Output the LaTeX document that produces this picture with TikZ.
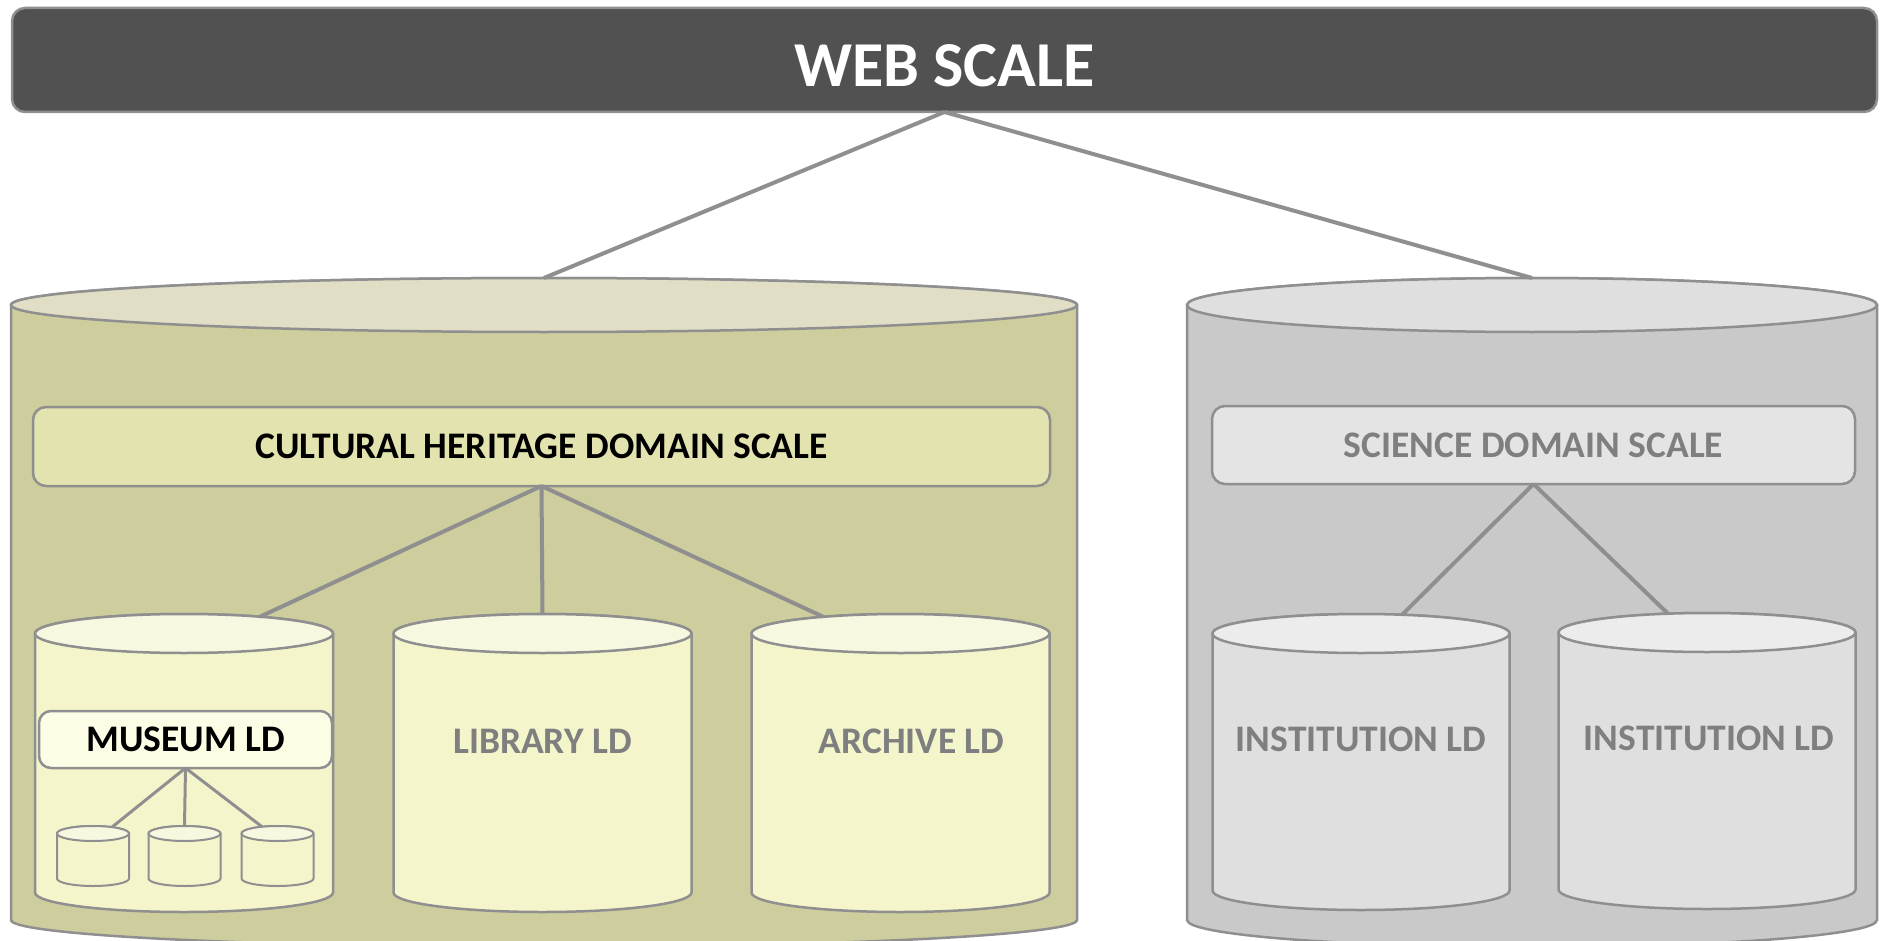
\documentclass[tikz,border=0pt]{standalone}
\usepackage{fontspec}
\setmainfont{Carlito}
\usetikzlibrary{positioning, calc}

\definecolor{webgray}{HTML}{515151}
\definecolor{linegray}{HTML}{8F8F8F}
\definecolor{txtgray}{HTML}{7F7F7F}
\definecolor{olivebody}{HTML}{CDCD9E}
\definecolor{olivetop}{HTML}{E0DFC5}
\definecolor{chfill}{HTML}{E3E3AF}
\definecolor{ldbody}{HTML}{F5F5CB}
\definecolor{ldtop}{HTML}{F8F8E1}
\definecolor{museumfill}{HTML}{FDFDE5}
\definecolor{greybody}{HTML}{C9C9C9}
\definecolor{greytop}{HTML}{DFDFDF}
\definecolor{scifill}{HTML}{E4E4E4}
\definecolor{instbody}{HTML}{DFDFDF}
\definecolor{insttop}{HTML}{ECECEC}

% #1 extra style, #2 name, #3 centre x, #4 top y, #5 x radius, #6 height, #7 y radius, #8 body, #9 lid
\newcommand{\drawcan}[9][]{%
  \path[canline, #1, fill=#8] ({#3-#5},{#4+#7}) -- ({#3-#5},{#4+#6-#7})
    arc[start angle=180, end angle=360, x radius=#5pt, y radius=#7pt]
    -- ({#3+#5},{#4+#7})
    arc[start angle=0, end angle=180, x radius=#5pt, y radius=#7pt] -- cycle;
  \path[canline, #1, fill=#9] (#3,{#4+#7}) ellipse[x radius=#5pt, y radius=#7pt];
  \node (#2) [minimum width=2*#5pt, minimum height=#6pt] at (#3,{#4+#6/2}) {};
}

\begin{document}
\begin{tikzpicture}[
    x=1pt, y=-1pt,
    every node/.style={inner sep=0pt, outer sep=0pt, font=\bfseries\fontsize{37.5}{40}\selectfont},
    scalebox/.style={draw=linegray, line width=2.5pt, rectangle, rounded corners=13pt},
    canline/.style={draw=linegray, line width=2.5pt},
    greytext/.style={text=txtgray},
    link/.style={draw=linegray, line width=4pt}
  ]
    \useasboundingbox (0,0) rectangle (1889,941);

    % web level
    \node (web) [scalebox, fill=webgray, minimum width=1865pt, minimum height=104pt] at (944.5,60) {};
    \node (webtxt) [text=white, font=\bfseries\fontsize{64}{70}\selectfont] at ([yshift=-5.5pt]web.center) {WEB SCALE};

    % domain cylinders
    \drawcan{heritage}{544}{278}{533}{669}{27}{olivebody}{olivetop}
    \drawcan{science}{1532}{278}{345}{669}{27}{greybody}{greytop}

    \node (chscale) [scalebox, fill=chfill, minimum width=1017pt, minimum height=79pt] at (541.5,446.5) {CULTURAL HERITAGE DOMAIN SCALE};
    \node (sciscale) [scalebox, fill=scifill, greytext, minimum width=643pt, minimum height=78pt] at (1533.5,445) {SCIENCE DOMAIN SCALE};

    % LD cylinders
    \drawcan{museum}{184}{614}{149}{298}{19.5}{ldbody}{ldtop}
    \drawcan{library}{542.5}{614}{149}{298}{19.5}{ldbody}{ldtop}
    \drawcan{archive}{900.5}{614}{149}{298}{19.5}{ldbody}{ldtop}
    \drawcan{inst1}{1361}{614}{148.5}{296}{19.5}{instbody}{insttop}
    \drawcan{inst2}{1707}{613}{148.5}{296}{19.5}{instbody}{insttop}

    \node (libtxt) [greytext] at ([yshift=-127pt]library.north) {LIBRARY LD};
    \node (archtxt) [greytext] at ([xshift=11pt, yshift=-127pt]archive.north) {ARCHIVE LD};
    \node (inst1txt) [greytext] at ([yshift=-125pt]inst1.north) {INSTITUTION LD};
    \node (inst2txt) [greytext] at ([xshift=2pt, yshift=-125pt]inst2.north) {INSTITUTION LD};

    % museum
    \node (museumld) [scalebox, fill=museumfill, rounded corners=12pt, minimum width=293pt, minimum height=57pt] at (185.5,739.5) {MUSEUM LD};
    \drawcan[line width=2pt]{db1}{93}{826}{36}{60}{7.5}{ldbody}{ldtop}
    \drawcan[line width=2pt]{db2}{184.5}{826}{36}{60}{7.5}{ldbody}{ldtop}
    \drawcan[line width=2pt]{db3}{277.5}{826}{36}{60}{7.5}{ldbody}{ldtop}

    \draw[link] (web.south) -- (heritage.north);
    \draw[link] (web.south) -- (science.north);
    \draw[link] (chscale.south) -- ($(museum.north)+(76,2.7)$);
    \draw[link] (chscale.south) -- (library.north);
    \draw[link] (chscale.south) -- ($(archive.north)+(-77.5,2.7)$);
    \draw[link] (sciscale.south) -- ($(inst1.north)+(41,0.8)$);
    \draw[link] (sciscale.south) -- ($(inst2.north)+(-39,0.7)$);
    \draw[link, line width=3pt] (museumld.south) -- ($(db1.north)+(19,1.1)$);
    \draw[link, line width=3pt] (museumld.south) -- (db2.north);
    \draw[link, line width=3pt] (museumld.south) -- ($(db3.north)+(-15.5,0.7)$);
  \end{tikzpicture}
\end{document}
